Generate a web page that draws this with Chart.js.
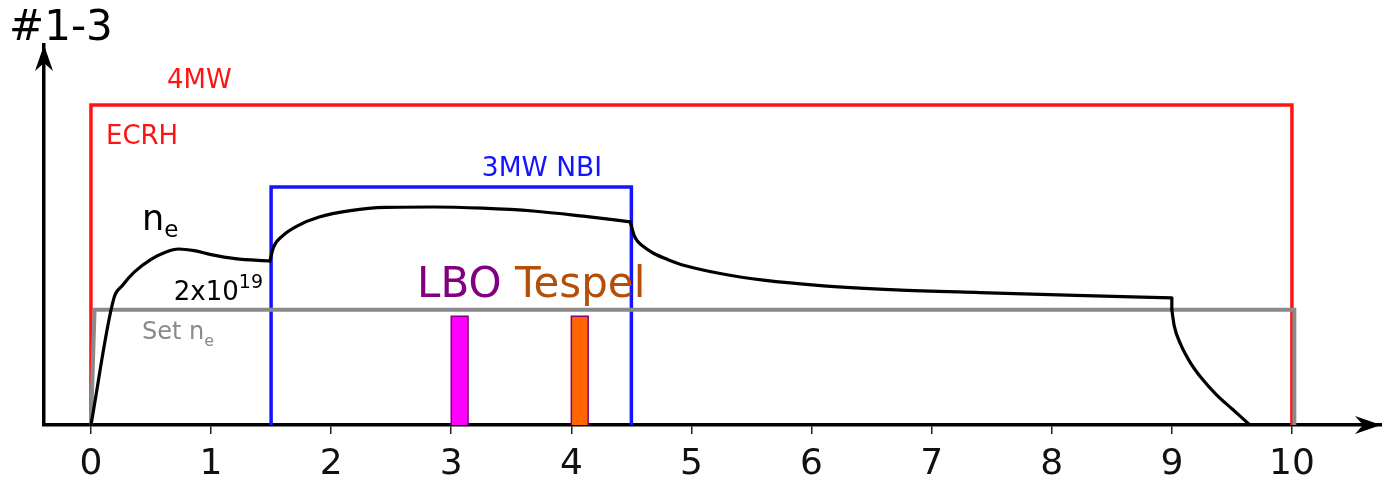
<!DOCTYPE html>
<html><head><meta charset="utf-8">
<script src="https://cdn.jsdelivr.net/npm/chart.js@4.4.1/dist/chart.umd.min.js"></script>
<style>html,body{margin:0;padding:0;background:#fff;overflow:hidden}#wrap{width:1382px;height:483px;position:relative}</style>
</head><body><div id="wrap"><canvas id="c" width="1382" height="483"></canvas></div>
<script>
// ---- data (time in s, power in MW / density in arbitrary units) ----
const xTickValues = [0,1,2,3,4,5,6,7,8,9,10];

const ecrhTime  = [0, 0, 10, 10];
const ecrhPower = [0, 4, 4, 0];

const nbiTime  = [1.5, 1.5, 4.5, 4.5];
const nbiPower = [0, 2.975, 2.975, 0];

const setNeTime  = [0, 0.03, 10.02, 10.02];
const setNeLevel = [0, 1.44, 1.44, 0];

const lboTime  = [3.0, 3.0, 3.14, 3.14];
const lboLevel = [0, 1.36, 1.36, 0];

const tespelTime  = [4.0, 4.0, 4.14, 4.14];
const tespelLevel = [0, 1.36, 1.36, 0];

// electron density trace, split into phases
const neTimeStart = [0, 0.19, 0.26, 0.36, 0.50, 0.62, 0.73, 0.86, 1.0, 1.2, 1.49];
const neDensStart = [0, 1.58, 1.74, 1.91, 2.07, 2.16, 2.20, 2.18, 2.13, 2.08, 2.05];

const neTimeNbi = [1.49, 1.52, 1.60, 1.72, 1.90, 2.16, 2.45, 2.85, 3.26, 3.68, 4.10, 4.49];
const neDensNbi = [2.05, 2.22, 2.37, 2.49, 2.60, 2.68, 2.72, 2.725, 2.71, 2.675, 2.61, 2.54];

const neTimeDecay = [4.49, 4.505, 4.52, 4.55, 4.60, 4.68, 4.80, 4.95, 5.25, 5.60, 6.10, 6.70, 7.40, 8.20, 9.0];
const neDensDecay = [2.54, 2.46, 2.38, 2.30, 2.23, 2.15, 2.07, 1.99, 1.89, 1.81, 1.74, 1.69, 1.655, 1.62, 1.59];

const neTimeEnd = [9.0, 9.0, 9.02, 9.07, 9.15, 9.25, 9.37, 9.51, 9.65];
const neDensEnd = [1.59, 1.44, 1.24, 1.02, 0.79, 0.58, 0.38, 0.19, 0.0];

const zip = (xs, ys) => xs.map((x, i) => ({x, y: ys[i]}));

Chart.defaults.font.family = 'DejaVu Sans';

const RED = '#ff1414', BLUE = '#1414ff', GRAY = '#8a8a8a';

function lineDs(data, color, width, order, extra) {
  return Object.assign({data, borderColor: color, borderWidth: width, pointRadius: 0,
    fill: false, tension: 0, order, borderJoinStyle: 'miter'}, extra || {});
}
function smooth(data, order) {
  return lineDs(data, '#000', 3.2, order, {cubicInterpolationMode: 'monotone', borderJoinStyle: 'round', borderCapStyle: 'round'});
}

const annotations = [
  {x: 0.633, y: 4.21, runs: [{t: '4MW', size: 26, color: RED}]},
  {x: 0.125, y: 3.51, runs: [{t: 'ECRH', size: 26, color: RED}]},
  {x: 3.255, y: 3.11, runs: [{t: '3MW NBI', size: 26.5, color: BLUE}]},
  {x: 0.425, y: 2.44, runs: [{t: 'n', size: 35, color: '#000'}, {t: 'e', size: 23, color: '#000', dy: 7}]},
  {x: 0.69, y: 1.5625, runs: [{t: '2x10', size: 26, color: '#000'}, {t: '19', size: 19, color: '#000', dy: -12}]},
  {x: 0.425, y: 1.075, runs: [{t: 'Set n', size: 24, color: GRAY}, {t: 'e', size: 16, color: GRAY, dy: 7}]},
  {x: 2.715, y: 1.60, runs: [{t: 'LBO ', size: 42, color: '#800080'}, {t: 'Tespel', size: 42, color: '#b44f0a'}]}
];

const decor = {
  id: 'decor',
  afterDatasetsDraw(chart) {
    const ctx = chart.ctx, xs = chart.scales.x, ys = chart.scales.y;
    ctx.save();
    ctx.textBaseline = 'alphabetic';
    ctx.textAlign = 'left';
    for (const a of annotations) {
      let px = xs.getPixelForValue(a.x);
      const py = ys.getPixelForValue(a.y);
      for (const r of a.runs) {
        ctx.font = r.size + 'px "DejaVu Sans"';
        ctx.fillStyle = r.color;
        ctx.fillText(r.t, px, py + (r.dy || 0));
        px += ctx.measureText(r.t).width;
      }
    }
    ctx.restore();
  },
  afterDraw(chart) {
    const ctx = chart.ctx, a = chart.chartArea;
    ctx.save();
    ctx.fillStyle = '#000';
    // x arrow
    const tx = 1381, ty = a.bottom;
    ctx.beginPath();
    ctx.moveTo(tx, ty);
    ctx.lineTo(tx - 26, ty - 9);
    ctx.lineTo(tx - 18, ty);
    ctx.lineTo(tx - 26, ty + 9);
    ctx.closePath(); ctx.fill();
    // y arrow
    const ux = a.left, uy = a.top;
    ctx.beginPath();
    ctx.moveTo(ux, uy);
    ctx.lineTo(ux - 9, uy + 26);
    ctx.lineTo(ux, uy + 18);
    ctx.lineTo(ux + 9, uy + 26);
    ctx.closePath(); ctx.fill();
    // panel label
    ctx.font = '42px "DejaVu Sans"';
    ctx.textBaseline = 'alphabetic';
    ctx.fillText('#1-3', 9, 40);
    ctx.restore();
  }
};

new Chart(document.getElementById('c'), {
  type: 'line',
  data: {
    datasets: [
      smooth(zip(neTimeStart, neDensStart), 1),
      smooth(zip(neTimeNbi, neDensNbi), 1),
      smooth(zip(neTimeDecay, neDensDecay), 1),
      lineDs(zip(neTimeEnd.slice(0, 2), neDensEnd.slice(0, 2)), '#000', 3.2, 1),
      smooth(zip(neTimeEnd.slice(1), neDensEnd.slice(1)), 1),
      lineDs(zip(setNeTime, setNeLevel), GRAY, 4, 2),
      lineDs(zip(lboTime, lboLevel), '#800080', 1.5, 3, {fill: 'origin', backgroundColor: '#ff00ff'}),
      lineDs(zip(tespelTime, tespelLevel), '#800080', 1.5, 3, {fill: 'origin', backgroundColor: '#ff6600'}),
      lineDs(zip(nbiTime, nbiPower), BLUE, 3.5, 4),
      lineDs(zip(ecrhTime, ecrhPower), RED, 3.5, 5)
    ]
  },
  options: {
    responsive: false,
    animation: false,
    devicePixelRatio: 1,
    layout: {padding: {top: 45, left: 0, right: 0, bottom: 0}},
    plugins: {legend: {display: false}, tooltip: {enabled: false}, title: {display: false}},
    scales: {
      x: {
        type: 'linear',
        min: -0.391, max: 10.75,
        afterFit(s) { s.height = 58; },
        afterBuildTicks(s) { s.ticks = xTickValues.map(v => ({value: v})); },
        border: {display: true, color: '#000', width: 3.5},
        grid: {drawOnChartArea: false, drawTicks: true, tickLength: 9, color: '#222', lineWidth: 1.5},
        ticks: {font: {size: 36}, color: '#111', padding: 9, maxRotation: 0, autoSkip: false}
      },
      y: {
        type: 'linear',
        min: 0, max: 4.75,
        afterFit(s) { s.width = 44; },
        border: {display: true, color: '#000', width: 3.5},
        grid: {drawOnChartArea: false, drawTicks: false},
        ticks: {display: false}
      }
    }
  },
  plugins: [decor]
});
</script></body></html>
